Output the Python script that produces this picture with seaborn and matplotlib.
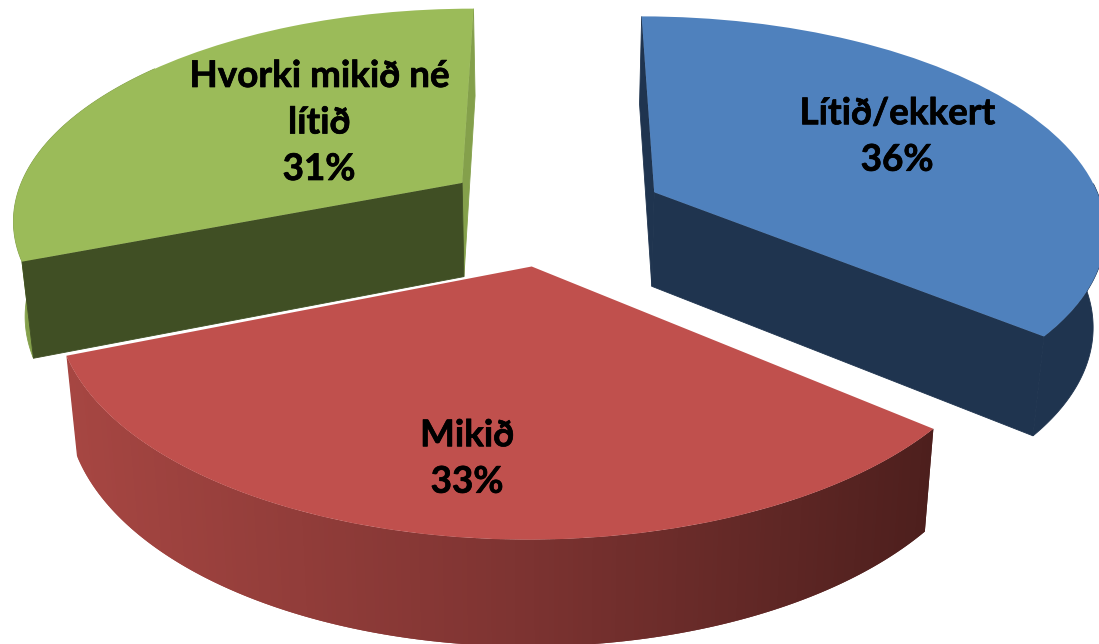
import numpy as np
import seaborn as sns
import matplotlib.pyplot as plt
import matplotlib.patheffects as pe
from matplotlib.transforms import Transform

# gögn
labels = ['Lítið/ekkert', 'Mikið', 'Hvorki mikið né\nlítið']
values = [36, 33, 31]
explode = [0.23, 0.25, 0.23]

top_colors = ['#4f81bd', '#c0504d', '#9bbb59']
cut_colors = ['#1f344f', '#c0504d', '#404f24']
back_colors = ['#1f344f', '#c0504d', '#84a04b']
red_wall = sns.blend_palette(['#a64642', '#7f3432', '#4d1f1d'], 256)

label_x = [897, 467, 319]
label_y = [137, 459, 123]

# pixel nudge of each slice, the original is not a clean projection
nudge_x = [17, 5, 1]
nudge_y = [3, 3, 0]


# pie plane -> pixels, with perspective
def tilt(pts, dx=0, dy=0):
    pts = np.asarray(pts, dtype=float)
    w = 1 + 0.16 * pts[:, 1]
    return np.column_stack([545 + dx + 450 * pts[:, 0] / w, 209.5 + dy - 210 * pts[:, 1] / w])


# top surface -> bottom surface
def drop(pts):
    return np.column_stack([pts[:, 0] + (545 - pts[:, 0]) * 0.022, pts[:, 1] + 87 + 0.0367 * pts[:, 1]])


class Tilt(Transform):
    input_dims = 2
    output_dims = 2

    def __init__(self, dx, dy):
        super().__init__()
        self.dx = dx
        self.dy = dy

    def transform_non_affine(self, values):
        return tilt(values, self.dx, self.dy)


def arc(wedge, t1, t2, i, n=2):
    t = np.radians(np.linspace(t1, t2, n))
    pts = np.column_stack([wedge.center[0] + wedge.r * np.cos(t), wedge.center[1] + wedge.r * np.sin(t)])
    return tilt(pts, nudge_x[i], nudge_y[i])


def side(ax, pts, color, z, lw=0.6):
    ax.fill(pts[:, 0], pts[:, 1], color=color, lw=lw, zorder=z)


def radial_wall(ax, wedge, theta, i, color, z):
    edge = np.vstack([tilt([wedge.center], nudge_x[i], nudge_y[i]), arc(wedge, theta, theta, i)[:1]])
    side(ax, np.vstack([edge, drop(edge)[::-1]]), color, z)


# only the front part of the rim, the back part would show round the top
def outer_wall(ax, wedge, t1, t2, i, color, z):
    rim = arc(wedge, t1, t2, i, 120)
    side(ax, np.vstack([rim, drop(rim)[::-1]]), color, z)


# red one has the shading, strips overlap so no seams show
def shaded_wall(ax, wedge, i, z):
    rim = arc(wedge, wedge.theta1, wedge.theta2, i, 240)
    low = drop(rim)
    for k in range(len(rim) - 1):
        c = red_wall[int(np.clip((rim[k, 0] - 68) / (931 - 68), 0, 1) * 255)]
        side(ax, np.vstack([rim[k:k + 3], low[k:k + 3][::-1]]), c, z, lw=0)


sns.set_theme(style='white')
plt.rcParams['font.family'] = ['Lato', 'DejaVu Sans']

fig = plt.figure(figsize=(10.99, 6.44), dpi=100)
ax = fig.add_axes([0, 0, 1, 1])

wedges, _ = ax.pie(values, explode=explode, colors=top_colors, startangle=90, counterclock=False,
                   wedgeprops={'linewidth': 0})
ax.set_aspect('auto')
ax.set_xlim(0, 1099)
ax.set_ylim(644, 0)
ax.axis('off')

# back to front: green, blue, red
base = {2: 2, 0: 6, 1: 10}
blue, red, green = wedges

radial_wall(ax, green, green.theta1, 2, back_colors[2], base[2])
outer_wall(ax, green, green.theta2 - 60, green.theta2, 2, back_colors[2], base[2])
radial_wall(ax, green, green.theta2, 2, cut_colors[2], base[2] + 1)

radial_wall(ax, blue, blue.theta2, 0, back_colors[0], base[0])
outer_wall(ax, blue, blue.theta1, blue.theta1 + 42, 0, back_colors[0], base[0])
radial_wall(ax, blue, blue.theta1, 0, cut_colors[0], base[0] + 1)

shaded_wall(ax, red, 1, base[1])

for i, wedge in enumerate(wedges):
    wedge.set_transform(Tilt(nudge_x[i], nudge_y[i]) + ax.transData)
    wedge.set_zorder(base[i] + 2)

for lab, val, x, y in zip(labels, values, label_x, label_y):
    t = ax.text(x, y, f'{lab}\n{val}%', ha='center', va='center', fontsize=26.5, fontweight='bold',
                color='black', linespacing=1.5, zorder=20)
    t.set_path_effects([pe.withStroke(linewidth=0.5, foreground='black')])

fig.savefig('out.png', dpi=100)
